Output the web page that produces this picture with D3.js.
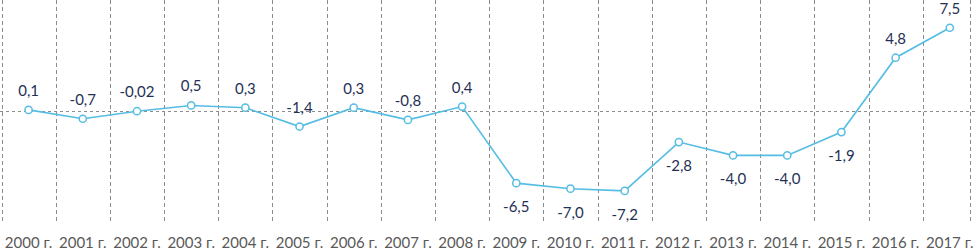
<!DOCTYPE html>
<html>
<head>
<meta charset="utf-8">
<script src="https://cdn.jsdelivr.net/npm/d3@7"></script>
<style>
  body { margin: 0; background: #fff; }
  svg { display: block; }
</style>
</head>
<body>
<script>
// chart data
const years = ["2000 г.", "2001 г.", "2002 г.", "2003 г.", "2004 г.", "2005 г.", "2006 г.", "2007 г.", "2008 г.",
               "2009 г.", "2010 г.", "2011 г.", "2012 г.", "2013 г.", "2014 г.", "2015 г.", "2016 г.", "2017 г."];
const values = [0.1, -0.7, -0.02, 0.5, 0.3, -1.4, 0.3, -0.8, 0.4, -6.5, -7.0, -7.2, -2.8, -4.0, -4.0, -1.9, 4.8, 7.5];
// where each data label sits relative to its point
const labelSide = ["top", "top", "top", "top", "top", "top", "top", "top", "top",
                   "bottom", "bottom", "bottom", "bottom", "bottom", "bottom", "bottom", "top", "top"];

const width = 976;
const height = 250;
const plotBottom = 222;

const lineColor = "#55bde3";
const gridColor = "#8c8c8c";

const svg = d3.select("body")
    .append("svg")
    .attr("width", width)
    .attr("height", height);

const x = d3.scaleBand()
    .domain(years)
    .range([1.5, 976.9]);

const y = d3.scaleLinear()
    .domain([-10, 10])
    .range([plotBottom, 0]);

// vertical dashed gridlines between categories
const grid = svg.append("g").attr("class", "grid");
grid.selectAll("line.v")
    .data(years)
    .enter()
    .append("line")
    .attr("class", "v")
    .attr("x1", d => Math.round(x(d)) + 0.5)
    .attr("x2", d => Math.round(x(d)) + 0.5)
    .attr("y1", 0)
    .attr("y2", plotBottom)
    .attr("stroke", gridColor)
    .attr("stroke-width", 1)
    .attr("stroke-dasharray", "4,3");
grid.append("line")
    .attr("x1", 970.5).attr("x2", 970.5)
    .attr("y1", 0).attr("y2", plotBottom)
    .attr("stroke", gridColor)
    .attr("stroke-dasharray", "4,3");

// zero line
grid.append("line")
    .attr("x1", 0)
    .attr("x2", width)
    .attr("y1", Math.round(y(0)) + 0.5)
    .attr("y2", Math.round(y(0)) + 0.5)
    .attr("stroke", gridColor)
    .attr("stroke-width", 1)
    .attr("stroke-dasharray", "3,3");

// category axis
const xAxis = svg.append("g")
    .attr("transform", "translate(0," + plotBottom + ")")
    .call(d3.axisBottom(x).tickSize(0).tickPadding(0));
xAxis.select(".domain").remove();
xAxis.selectAll("text")
    .attr("dy", null)
    .attr("y", 26)
    .style("font-family", "Lato, 'Open Sans', sans-serif")
    .style("font-size", "15px")
    .style("fill", "#595959");

const cx = d => x(d) + x.bandwidth() / 2;
const pts = years.map((d, i) => ({ year: d, value: values[i], side: labelSide[i] }));

// the line
const line = d3.line()
    .x(d => cx(d.year))
    .y(d => y(d.value));

svg.append("path")
    .datum(pts)
    .attr("d", line)
    .attr("fill", "none")
    .attr("stroke", lineColor)
    .attr("stroke-width", 1.6);

// markers
svg.selectAll("circle.pt")
    .data(pts)
    .enter()
    .append("circle")
    .attr("class", "pt")
    .attr("cx", d => cx(d.year))
    .attr("cy", d => y(d.value))
    .attr("r", 3.6)
    .attr("fill", "#fff")
    .attr("stroke", lineColor)
    .attr("stroke-width", 1.5);

// data labels
function fmt(v) {
    const dec = (v !== 0 && Math.abs(v) < 0.05) ? 2 : 1;
    return v.toFixed(dec).replace(".", ",");
}

svg.selectAll("text.lbl")
    .data(pts)
    .enter()
    .append("text")
    .attr("class", "lbl")
    .attr("x", d => cx(d.year))
    .attr("y", d => d.side === "top" ? y(d.value) - 14 : y(d.value) + 29)
    .attr("text-anchor", "middle")
    .style("font-family", "Lato, 'Open Sans', sans-serif")
    .style("font-size", "15px")
    .style("fill", "#1f3154")
    .text(d => fmt(d.value));
</script>
</body>
</html>
